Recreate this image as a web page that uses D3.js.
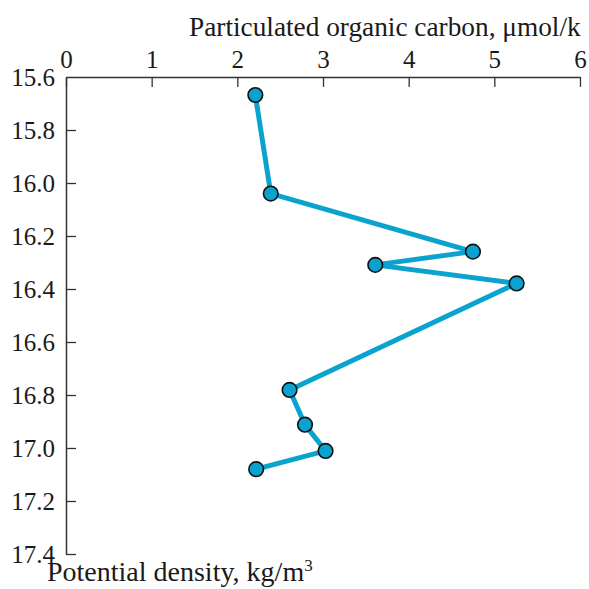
<!DOCTYPE html>
<html><head><meta charset="utf-8">
<script src="https://cdn.jsdelivr.net/npm/d3@7"></script>
<style>
html,body{margin:0;padding:0;background:#fff;}
text{font-family:"Liberation Serif","Times New Roman",serif;fill:#1a1a1a;}
</style></head>
<body><div id="chart"></div>
<script>
const carbon = [2.21, 2.39, 4.75, 3.61, 5.26, 2.61, 2.79, 3.03, 2.22];
const density = [15.668, 16.04, 16.259, 16.309, 16.379, 16.781, 16.912, 17.011, 17.08];
const xTicks = [0, 1, 2, 3, 4, 5, 6];
const yTicks = [15.6, 15.8, 16.0, 16.2, 16.4, 16.6, 16.8, 17.0, 17.2, 17.4];
const xTitle = "Particulated organic carbon, μmol/k";
const yTitle = "Potential density, kg/m";

const W = 589, H = 589;
const svg = d3.select("#chart").append("svg").attr("width", W).attr("height", H);
const x = d3.scaleLinear().domain([0, 6]).range([66, 580]);
const y = d3.scaleLinear().domain([15.6, 17.4]).range([77, 554]);
const axisColor = "#333";

// x axis (top) with inward ticks
const xa = svg.append("g").attr("transform", `translate(0,${y(15.6)})`)
  .call(d3.axisBottom(x).tickValues(xTicks).tickSize(10).tickFormat(d3.format("d")).tickSizeOuter(0));
xa.select(".domain").attr("stroke", axisColor).attr("stroke-width", 1.5);
xa.selectAll(".tick line").attr("stroke", axisColor).attr("stroke-width", 1.3);
xa.selectAll(".tick text").attr("y", -9).attr("dy", 0)
  .style("font-size", "25px").attr("fill", "#1a1a1a");

// y axis (left) with inward ticks
const ya = svg.append("g").attr("transform", `translate(${x(0)},0)`)
  .call(d3.axisRight(y).tickValues(yTicks).tickSize(10).tickFormat(d3.format(".1f")).tickSizeOuter(0));
ya.select(".domain").attr("stroke", axisColor).attr("stroke-width", 1.5);
ya.selectAll(".tick line").attr("stroke", axisColor).attr("stroke-width", 1.3);
ya.selectAll(".tick text").attr("x", -11).attr("dy", "0.35em").attr("text-anchor", "end")
  .style("font-size", "25px").attr("fill", "#1a1a1a");
ya.selectAll(".tick").filter(d => d === 15.6).select("line").remove();

// titles
svg.append("text").attr("x", 189).attr("y", 36).style("font-size", "27.3px").text(xTitle);
const yt = svg.append("text").attr("x", 47).attr("y", 581).style("font-size", "28px");
yt.append("tspan").text(yTitle);
yt.append("tspan").attr("dy", -10).style("font-size", "17px").text("3");

// data
const pts = carbon.map((c, i) => [c, density[i]]);
svg.append("path").datum(pts)
  .attr("fill", "none").attr("stroke", "#0aa3d0").attr("stroke-width", 5).attr("stroke-linejoin", "miter")
  .attr("d", d3.line().x(d => x(d[0])).y(d => y(d[1])));
svg.selectAll("circle.pt").data(pts).enter().append("circle").attr("class", "pt")
  .attr("cx", d => x(d[0])).attr("cy", d => y(d[1])).attr("r", 7.3)
  .attr("fill", "#0aa3d0").attr("stroke", "#111").attr("stroke-width", 1.6);
</script></body></html>
